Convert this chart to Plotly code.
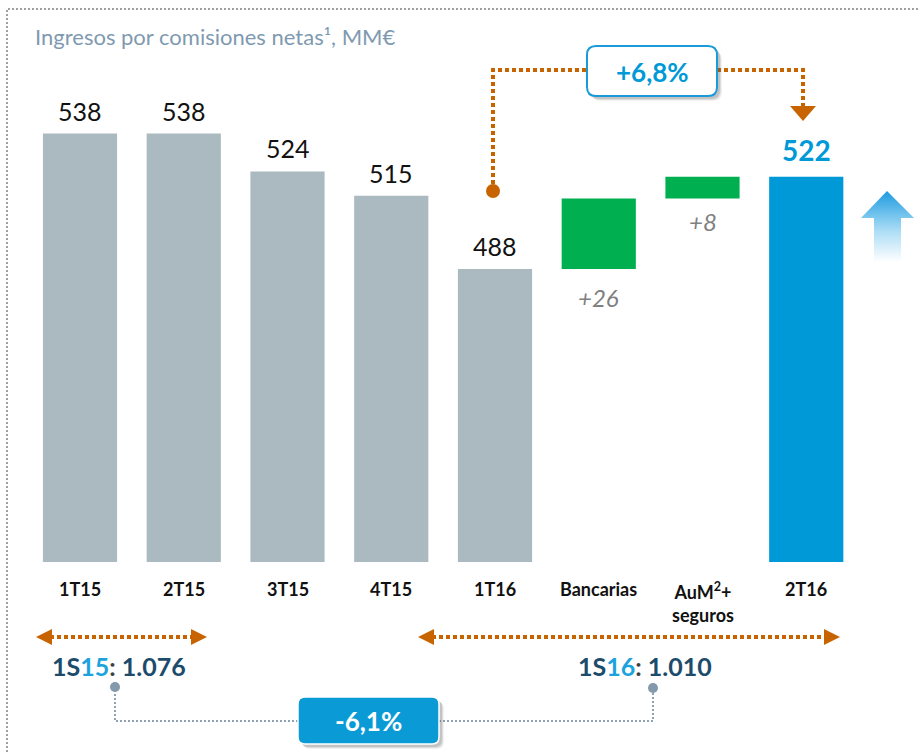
import plotly.graph_objects as go

# ---- data -------------------------------------------------------------
categories = ['1T15', '2T15', '3T15', '4T15', '1T16', 'Bancarias', 'AuM<sup>2</sup>+<br>seguros', '2T16']
quarter_values = [538, 538, 524, 515, 488]
bridge_deltas = [26, 8]
final_value = 522
growth_qoq = '+6,8%'
semester_labels = ['1S15', '1S16']
semester_totals = ['1.076', '1.010']
growth_semester = '-6,1%'
title = 'Ingresos por comisiones netas¹, MM€'

GREY = '#abb9c0'
GREEN = '#00b050'
BLUE = '#0099d8'
ORANGE = '#c86400'
NAVY = '#1c4b6b'
LIGHTBLUE = '#1ca3de'
FONT = 'Lato'

W, H = 920, 754
BASE_PX = 562          # pixel row of the bar floor
PX_PER_UNIT = 2.71
X0_PX, STEP_PX = 80, 103.75


def X(px):  # pixel -> paper x
    return px / W


def Y(px):  # pixel -> paper y (plot area spans top..BASE_PX)
    return (BASE_PX - px) / BASE_PX


def xd(px):  # pixel -> data x
    return (px - X0_PX) / STEP_PX


def yd(px):  # pixel -> data y
    return 488 + (269 - px) / PX_PER_UNIT


n_q = len(quarter_values)
x_q = list(range(n_q))
bases, run = [], quarter_values[-1]
for d in bridge_deltas:
    bases.append(run)
    run += d
x_b = [n_q + i for i in range(len(bridge_deltas))]
x_f = n_q + len(bridge_deltas)

fig = go.Figure()
fig.add_trace(go.Bar(x=x_q, y=quarter_values, marker_color=GREY, width=0.715,
                     marker_line_width=0, hoverinfo='skip'))
fig.add_trace(go.Bar(x=x_b, y=bridge_deltas, base=bases, marker_color=GREEN, width=0.715,
                     marker_line_width=0, hoverinfo='skip'))
fig.add_trace(go.Bar(x=[x_f], y=[final_value], marker_color=BLUE, width=0.715,
                     marker_line_width=0, hoverinfo='skip'))

# gradient up-arrow on the right
ax_px = [887, 914, 901, 901, 874, 874, 861, 887]
ay_px = [191, 218, 218, 262, 262, 218, 218, 191]
fig.add_trace(go.Scatter(
    x=[xd(p) for p in ax_px], y=[yd(p) for p in ay_px],
    mode='lines', fill='toself', line=dict(width=0),
    fillgradient=dict(type='vertical',
                      colorscale=[[0, 'rgba(255,255,255,1)'], [0.45, '#a9dcf5'], [1, '#1d9be0']]),
    hoverinfo='skip', showlegend=False))

ann = []
shapes = []

# value labels
for i, v in enumerate(quarter_values):
    ann.append(dict(x=i, y=v, xref='x', yref='y', text=str(v), showarrow=False,
                    yanchor='middle', yshift=23, font=dict(size=25, color='#111111', family=FONT)))
ann.append(dict(x=x_f, y=final_value, xref='x', yref='y', text=f'<b>{final_value}</b>',
                showarrow=False, yanchor='middle', yshift=27,
                font=dict(size=28, color=BLUE, family=FONT)))
for i, (b, d) in enumerate(zip(bases, bridge_deltas)):
    ann.append(dict(x=x_b[i], y=b, xref='x', yref='y', text=f'<i>+{d}</i>', showarrow=False,
                    yanchor='middle', yshift=-28 if i == 0 else -23,
                    font=dict(size=24, color='#808080', family=FONT)))

# category labels
for i, c in enumerate(categories):
    two = '<br>' in c
    ann.append(dict(x=i, y=Y(589), xref='x', yref='paper', text=f'<b>{c}</b>', showarrow=False,
                    xanchor='center', yanchor='top' if two else 'middle', yshift=12 if two else 0,
                    font=dict(size=18, color='#111111', family=FONT)))

# title
ann.append(dict(x=X(33), y=Y(37), xref='paper', yref='paper', text=title, showarrow=False,
                xanchor='left', yanchor='middle', font=dict(size=22, color='#7f9ab0', family=FONT)))

# dotted frame (top and left only)
frame = dict(color='#a0a0a0', width=2, dash='2px,2px')
shapes.append(dict(type='path', xref='paper', yref='paper',
                   path=f'M{X(7)},{Y(760)} L{X(7)},{Y(9)} L{X(922)},{Y(9)}', line=frame))

# orange connector 1T16 -> 2T16
odot = dict(color=ORANGE, width=4, dash='4px,3px')
shapes.append(dict(type='path', xref='paper', yref='paper',
                   path=f'M{X(493)},{Y(191)} L{X(493)},{Y(70)} L{X(587)},{Y(70)}', line=odot))
shapes.append(dict(type='path', xref='paper', yref='paper',
                   path=f'M{X(717)},{Y(70)} L{X(803)},{Y(70)} L{X(803)},{Y(107)}', line=odot))
shapes.append(dict(type='circle', xref='paper', yref='paper', x0=X(486), x1=X(500), y0=Y(198), y1=Y(184),
                   fillcolor=ORANGE, line=dict(width=0)))
shapes.append(dict(type='path', xref='paper', yref='paper',
                   path=f'M{X(790)},{Y(106)} L{X(816)},{Y(106)} L{X(803)},{Y(121)} Z',
                   fillcolor=ORANGE, line=dict(width=0)))


def rounded(x0, y0, x1, y1, r):
    return (f'M{X(x0 + r)},{Y(y0)} L{X(x1 - r)},{Y(y0)} Q{X(x1)},{Y(y0)} {X(x1)},{Y(y0 + r)} '
            f'L{X(x1)},{Y(y1 - r)} Q{X(x1)},{Y(y1)} {X(x1 - r)},{Y(y1)} '
            f'L{X(x0 + r)},{Y(y1)} Q{X(x0)},{Y(y1)} {X(x0)},{Y(y1 - r)} '
            f'L{X(x0)},{Y(y0 + r)} Q{X(x0)},{Y(y0)} {X(x0 + r)},{Y(y0)} Z')


# +6,8% box
for off, op in [(5, 0.08), (4, 0.12), (3, 0.18)]:
    shapes.append(dict(type='path', xref='paper', yref='paper', path=rounded(587 + off, 46 + off, 717 + off, 96 + off, 9),
                       fillcolor=f'rgba(80,80,80,{op})', line=dict(width=0)))
shapes.append(dict(type='path', xref='paper', yref='paper', path=rounded(587, 46, 717, 96, 9),
                   fillcolor='white', line=dict(color='#1a9ad8', width=2)))
ann.append(dict(x=X(652), y=Y(72), xref='paper', yref='paper', text=f'<b>{growth_qoq}</b>', showarrow=False,
                xanchor='center', yanchor='middle', font=dict(size=26, color=BLUE, family=FONT)))

# semester arrows
for xa, xb in [(36, 207), (418, 840)]:
    shapes.append(dict(type='line', xref='paper', yref='paper', x0=X(xa + 14), x1=X(xb - 14), y0=Y(637), y1=Y(637),
                       line=odot))
    shapes.append(dict(type='path', xref='paper', yref='paper',
                       path=f'M{X(xa)},{Y(637)} L{X(xa + 16)},{Y(629)} L{X(xa + 16)},{Y(645)} Z',
                       fillcolor=ORANGE, line=dict(width=0)))
    shapes.append(dict(type='path', xref='paper', yref='paper',
                       path=f'M{X(xb)},{Y(637)} L{X(xb - 16)},{Y(629)} L{X(xb - 16)},{Y(645)} Z',
                       fillcolor=ORANGE, line=dict(width=0)))

for cx, lab, tot in zip([119, 645], semester_labels, semester_totals):
    txt = (f'<b><span style="color:{NAVY}">{lab[:2]}</span><span style="color:{LIGHTBLUE}">{lab[2:]}</span>'
           f'<span style="color:#404040">:</span> <span style="color:{NAVY}">{tot}</span></b>')
    ann.append(dict(x=X(cx), y=Y(666), xref='paper', yref='paper', text=txt, showarrow=False,
                    xanchor='center', yanchor='middle', font=dict(size=25, family=FONT)))

# grey connector between semesters
gdot = dict(color='#8ea2b3', width=2, dash='2px,2px')
shapes.append(dict(type='path', xref='paper', yref='paper',
                   path=f'M{X(115)},{Y(690)} L{X(115)},{Y(721)} L{X(298)},{Y(721)}', line=gdot))
shapes.append(dict(type='path', xref='paper', yref='paper',
                   path=f'M{X(439)},{Y(721)} L{X(653)},{Y(721)} L{X(653)},{Y(690)}', line=gdot))
for cx, cy in [(115, 687), (653, 688)]:
    shapes.append(dict(type='circle', xref='paper', yref='paper', x0=X(cx - 5), x1=X(cx + 5),
                       y0=Y(cy + 5), y1=Y(cy - 5), fillcolor='#8499ab', line=dict(width=0)))

# -6,1% box
for off, op in [(5, 0.08), (4, 0.12), (3, 0.18)]:
    shapes.append(dict(type='path', xref='paper', yref='paper', path=rounded(298 + off, 697 + off, 439 + off, 744 + off, 7),
                       fillcolor=f'rgba(80,80,80,{op})', line=dict(width=0)))
shapes.append(dict(type='path', xref='paper', yref='paper', path=rounded(298, 697, 439, 744, 7),
                   fillcolor='#0a9bd6', line=dict(color='white', width=1.5)))
ann.append(dict(x=X(368), y=Y(721), xref='paper', yref='paper', text=f'<b>{growth_semester}</b>', showarrow=False,
                xanchor='center', yanchor='middle', font=dict(size=26, color='white', family=FONT)))

fig.update_layout(
    width=W, height=H,
    margin=dict(l=0, r=0, t=0, b=H - BASE_PX),
    plot_bgcolor='white', paper_bgcolor='white',
    showlegend=False, barmode='overlay',
    xaxis=dict(range=[xd(0), xd(W)], visible=False, fixedrange=True),
    yaxis=dict(range=[yd(BASE_PX), yd(0)], visible=False, fixedrange=True),
    annotations=ann, shapes=shapes,
)
fig.write_html('out.html', config={'displayModeBar': False},
               post_script="document.body.style.margin='0';")
